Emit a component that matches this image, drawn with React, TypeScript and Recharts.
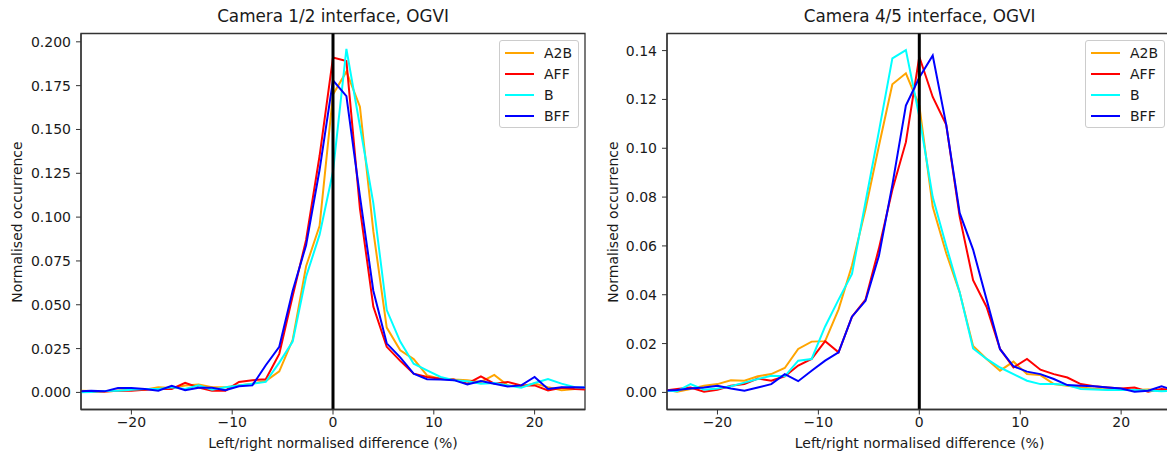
import React from "react";
import { LineChart, Line, XAxis, YAxis, ReferenceLine, ReferenceArea, Legend } from "recharts";

// bin centres (%), shared by both panels
const binCentres = [
  -25.33, -24, -22.67, -21.33, -20, -18.67, -17.33, -16, -14.67, -13.33, -12, -10.67, -9.33,
  -8, -6.67, -5.33, -4, -2.67, -1.33, 0, 1.33, 2.67, 4, 5.33, 6.67, 8, 9.33, 10.67, 12,
  13.33, 14.67, 16, 17.33, 18.67, 20, 21.33, 22.67, 24, 25.33,
];

// Camera 1/2 interface
const cam12A2B = [
  0.001, 0.0008, 0.0005, 0.001, 0.0015, 0.0015, 0.003, 0.0025, 0.004, 0.0045, 0.003, 0.003, 0.004,
  0.005, 0.0065, 0.012, 0.03, 0.072, 0.095, 0.17, 0.183, 0.163, 0.092, 0.037, 0.024, 0.019, 0.0097,
  0.0078, 0.0073, 0.007, 0.006, 0.01, 0.004, 0.0035, 0.005, 0.003, 0.0012, 0.002, 0.0025,
];
const cam12AFF = [
  0.0005, 0.0003, 0.0005, 0.001, 0.001, 0.0015, 0.002, 0.002, 0.0055, 0.0028, 0.001, 0.001, 0.006,
  0.007, 0.0075, 0.022, 0.055, 0.087, 0.135, 0.191, 0.189, 0.105, 0.049, 0.026, 0.018, 0.0107, 0.0088,
  0.0078, 0.0073, 0.005, 0.0092, 0.005, 0.006, 0.004, 0.004, 0.0011, 0.0027, 0.002, 0.0015,
];
const cam12B = [
  0, 0.0003, 0.0008, 0.001, 0.0015, 0.002, 0.002, 0.003, 0.002, 0.004, 0.0015, 0.003, 0.004,
  0.005, 0.006, 0.017, 0.029, 0.066, 0.09, 0.126, 0.196, 0.152, 0.108, 0.047, 0.029, 0.0164, 0.0126,
  0.0088, 0.0069, 0.0063, 0.005, 0.0054, 0.004, 0.0027, 0.0054, 0.0076, 0.005, 0.003, 0.0027,
];
const cam12BFF = [
  0.0005, 0.001, 0.0006, 0.0025, 0.0025, 0.002, 0.001, 0.0037, 0.0012, 0.0027, 0.0027, 0.0012, 0.0035,
  0.004, 0.0155, 0.026, 0.058, 0.084, 0.127, 0.178, 0.169, 0.112, 0.058, 0.028, 0.02, 0.0107, 0.0075,
  0.0073, 0.007, 0.0046, 0.0065, 0.005, 0.0034, 0.004, 0.0088, 0.002, 0.003, 0.003, 0.0027,
];

// Camera 4/5 interface
const cam45A2B = [
  0.0014, 0.0003, 0.0014, 0.0027, 0.0034, 0.005, 0.0048, 0.0066, 0.0075, 0.01, 0.0178, 0.0208, 0.021,
  0.034, 0.052, 0.075, 0.101, 0.1262, 0.1307, 0.1175, 0.076, 0.057, 0.041, 0.019, 0.0137, 0.0089, 0.0126,
  0.0075, 0.0071, 0.0034, 0.0027, 0.002, 0.0015, 0.0012, 0.001, 0.001, 0.0012, 0.0008, 0.001,
];
const cam45AFF = [
  0.0007, 0.0014, 0.002, 0.0003, 0.0011, 0.0027, 0.0034, 0.0057, 0.0048, 0.0066, 0.011, 0.0137, 0.021,
  0.0164, 0.031, 0.038, 0.059, 0.083, 0.1025, 0.1375, 0.121, 0.1096, 0.072, 0.046, 0.035, 0.0178, 0.0102,
  0.0137, 0.0093, 0.0075, 0.0061, 0.0034, 0.0025, 0.002, 0.0016, 0.002, 0.0003, 0.0014, 0.0008,
];
const cam45B = [
  0.0007, 0.0005, 0.0034, 0.0011, 0.0016, 0.0025, 0.004, 0.0055, 0.0068, 0.0066, 0.013, 0.0137, 0.027,
  0.038, 0.0485, 0.078, 0.107, 0.1368, 0.1402, 0.113, 0.08, 0.06, 0.041, 0.018, 0.0137, 0.0102, 0.0075,
  0.0048, 0.0034, 0.0034, 0.003, 0.0014, 0.0012, 0.001, 0.001, 0.001, 0.0008, 0.0005, 0.0007,
];
const cam45BFF = [
  0.0007, 0.001, 0.0016, 0.002, 0.0027, 0.0016, 0.0007, 0.002, 0.0034, 0.0075, 0.0046, 0.0089, 0.013,
  0.0164, 0.031, 0.0375, 0.056, 0.085, 0.1175, 0.129, 0.138, 0.1096, 0.0735, 0.0585, 0.038, 0.0177, 0.0107,
  0.0085, 0.0075, 0.0055, 0.003, 0.0027, 0.0025, 0.002, 0.0016, 0.0003, 0.0007, 0.0025, 0.0008,
];

const seriesNames = ["A2B", "AFF", "B", "BFF"];
const seriesColours = ["#FFA500", "#FF0000", "#00FFFF", "#0000FF"];

const xTicks = [-20, -10, 0, 10, 20];
const cam12YTicks = [0, 0.025, 0.05, 0.075, 0.1, 0.125, 0.15, 0.175, 0.2];
const cam45YTicks = [0, 0.02, 0.04, 0.06, 0.08, 0.1, 0.12, 0.14];

const FONT = "'DejaVu Sans', sans-serif";
const AXIS = "#333";
const TEXT = "#1a1a1a";

function buildRows(series: number[][]) {
  return binCentres.map((x, i) => {
    const row: any = { x };
    seriesNames.forEach((name, j) => {
      row[name] = series[j][i];
    });
    return row;
  });
}

const fmtX = (v: number) => (v < 0 ? "\u2212" + Math.abs(v) : String(v));

function LegendBox() {
  return (
    <div
      style={{
        width: 80,
        height: 88,
        boxSizing: "border-box",
        border: "1px solid #cccccc",
        borderRadius: 3,
        background: "rgba(255,255,255,0.85)",
        padding: "1px 0 0 5px",
        fontFamily: FONT,
        fontSize: 14,
        color: TEXT,
      }}
    >
      {seriesNames.map((name, i) => (
        <div key={name} style={{ height: 21, display: "flex", alignItems: "center" }}>
          <svg width={29} height={4} style={{ marginRight: 10 }}>
            <line x1={0} y1={2} x2={29} y2={2} stroke={seriesColours[i]} strokeWidth={2} />
          </svg>
          <span>{name}</span>
        </div>
      ))}
    </div>
  );
}

interface PanelProps {
  left: number;
  marginLeft: number;
  marginRight: number;
  legendLeft: number;
  data: any[];
  yDomain: number[];
  yTicks: number[];
  yDigits: number;
}

function Panel({ left, marginLeft, marginRight, legendLeft, data, yDomain, yTicks, yDigits }: PanelProps) {
  const tickStyle = { fill: TEXT, fontSize: 14, fontFamily: FONT };
  return (
    <div style={{ position: "absolute", left, top: 0 }}>
      <LineChart
        width={600}
        height={454}
        data={data}
        margin={{ top: 33.5, right: marginRight, bottom: 14.5, left: marginLeft }}
      >
        <XAxis
          dataKey="x"
          type="number"
          domain={[-25, 25]}
          allowDataOverflow
          ticks={xTicks}
          tickFormatter={fmtX}
          height={30}
          tickSize={5}
          tickMargin={3}
          tick={tickStyle}
          stroke={AXIS}
          axisLine={{ stroke: AXIS, strokeWidth: 1.3 }}
          tickLine={{ stroke: AXIS }}
        />
        <YAxis
          type="number"
          domain={yDomain}
          allowDataOverflow
          ticks={yTicks}
          tickFormatter={(v: number) => v.toFixed(yDigits)}
          width={60}
          tickSize={5}
          tickMargin={5}
          tick={tickStyle}
          stroke={AXIS}
          axisLine={{ stroke: AXIS, strokeWidth: 1.3 }}
          tickLine={{ stroke: AXIS }}
        />
        {/* frame round the plot area */}
        <ReferenceArea
          x1={-25}
          x2={25}
          y1={yDomain[0]}
          y2={yDomain[1]}
          ifOverflow="visible"
          fill="none"
          fillOpacity={0}
          stroke={AXIS}
          strokeWidth={1.3}
        />
        {seriesNames.map((name, i) => (
          <Line
            key={name}
            type="linear"
            dataKey={name}
            stroke={seriesColours[i]}
            strokeWidth={2}
            dot={false}
            isAnimationActive={false}
          />
        ))}
        <ReferenceLine x={0} stroke="#000" strokeWidth={3} />
        <Legend
          layout="horizontal"
          verticalAlign="middle"
          align="center"
          wrapperStyle={{ top: 40, left: legendLeft, width: 80, height: 88 }}
          content={() => <LegendBox />}
        />
      </LineChart>
    </div>
  );
}

function TextAt({ x, y, size, rotate, children }: any) {
  return (
    <div
      style={{
        position: "absolute",
        left: x,
        top: y,
        transform: `translate(-50%, -50%)${rotate ? " rotate(-90deg)" : ""}`,
        whiteSpace: "nowrap",
        fontFamily: FONT,
        fontSize: size,
        color: TEXT,
        lineHeight: 1,
      }}
    >
      {children}
    </div>
  );
}

export default function App() {
  const cam12Rows = buildRows([cam12A2B, cam12AFF, cam12B, cam12BFF]);
  const cam45Rows = buildRows([cam45A2B, cam45AFF, cam45B, cam45BFF]);
  return (
    <div
      style={{
        position: "fixed",
        left: 0,
        top: 0,
        width: 1167,
        height: 454,
        overflow: "hidden",
        background: "#fff",
        fontFamily: FONT,
      }}
    >
      <Panel
        left={0}
        marginLeft={21}
        marginRight={15}
        legendLeft={499}
        data={cam12Rows}
        yDomain={[-0.00975, 0.20475]}
        yTicks={cam12YTicks}
        yDigits={3}
      />
      <Panel
        left={600}
        marginLeft={7}
        marginRight={28.4}
        legendLeft={485}
        data={cam45Rows}
        yDomain={[-0.007, 0.147]}
        yTicks={cam45YTicks}
        yDigits={2}
      />
      <TextAt x={333} y={16} size={16.8}>Camera 1/2 interface, OGVI</TextAt>
      <TextAt x={919.6} y={16} size={16.8}>Camera 4/5 interface, OGVI</TextAt>
      <TextAt x={333} y={443} size={14}>Left/right normalised difference (%)</TextAt>
      <TextAt x={919.6} y={443} size={14}>Left/right normalised difference (%)</TextAt>
      <TextAt x={17} y={221.5} size={14} rotate>Normalised occurrence</TextAt>
      <TextAt x={613} y={221.5} size={14} rotate>Normalised occurrence</TextAt>
    </div>
  );
}
